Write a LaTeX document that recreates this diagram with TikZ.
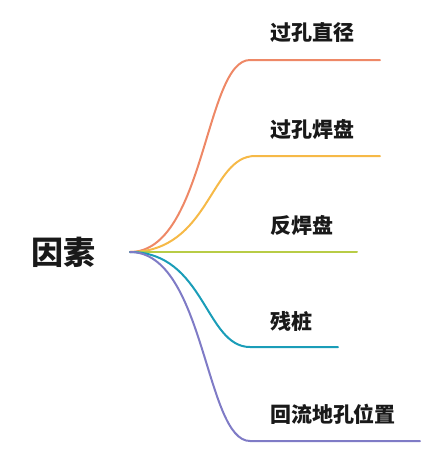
\documentclass[tikz,border=0pt]{standalone}
\usepackage{fontspec}
\setmainfont{Noto Sans CJK SC}
\usepackage{tikz}

\definecolor{cA}{HTML}{EE8866}
\definecolor{cB}{HTML}{F6B947}
\definecolor{cC}{HTML}{B8CC46}
\definecolor{cD}{HTML}{1A9DB8}
\definecolor{cE}{HTML}{7F7BC6}

\begin{document}
\begin{tikzpicture}[x=1pt, y=-1pt, line width=2pt, line cap=round,
    every node/.style={inner sep=0pt, text=black!90},
    leaf/.style={anchor=west, font=\bfseries\fontsize{21}{21}\selectfont},
    branch/.style={line width=2pt}]
  \useasboundingbox (0,0) rectangle (447,459);
  \node[anchor=west, font=\bfseries\fontsize{32}{32}\selectfont] (root) at (30,252) {因素};
  \coordinate (o) at (130,252);
  % leaves
  \node[leaf] (l1) at (269,33) {过孔直径};
  \node[leaf] (l2) at (269,129) {过孔焊盘};
  \node[leaf] (l3) at (269,225) {反焊盘};
  \node[leaf] (l4) at (269,321) {残桩};
  \node[leaf] (l5) at (269,414) {回流地孔位置};
  \coordinate (t1) at (250,60);  \coordinate (e1) at (380,60);
  \coordinate (t2) at (255,156); \coordinate (e2) at (380,156);
  \coordinate (e3) at (357,252);
  \coordinate (t4) at (250,347); \coordinate (e4) at (338,347);
  \coordinate (t5) at (250,441); \coordinate (e5) at (420,441);
  \draw[branch, cA] (o) .. controls (205,252) and (205,60) .. (t1) -- (e1);
  \draw[branch, cB] (o) .. controls (210,252) and (210,156) .. (t2) -- (e2);
  \draw[branch, cC] (o) -- (e3);
  \draw[branch, cD] (o) .. controls (205,252) and (205,347) .. (t4) -- (e4);
  \draw[branch, cE] (o) .. controls (205,252) and (205,441) .. (t5) -- (e5);
\end{tikzpicture}
\end{document}
